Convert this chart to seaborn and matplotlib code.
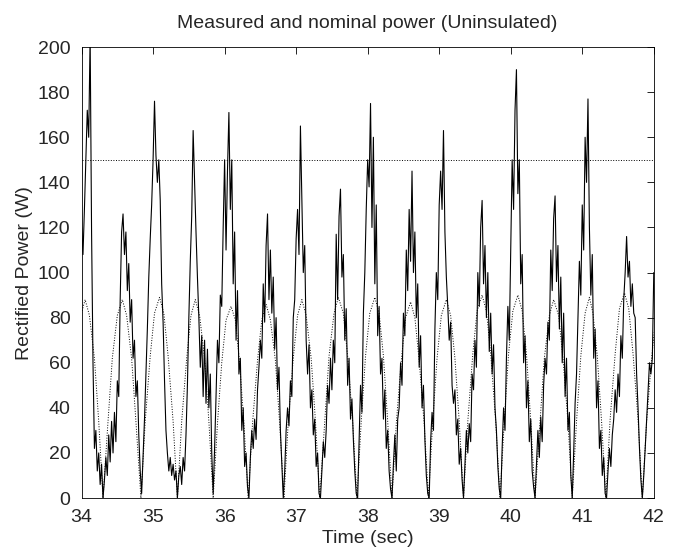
import numpy as np
import pandas as pd
import seaborn as sns
import matplotlib.pyplot as plt

# measured power, sampled every 0.02 s from 34.00 to 42.00 (one row = 0.5 s)
measured_start = 34.0
measured_step = 0.02
measured_w = [
    120, 108, 128, 150, 172, 160, 205, 118, 60, 22, 30, 12, 20, 6, 15, 0, 8, 18, 10, 28, 16, 34, 20, 38, 25,
    52, 45, 88, 118, 126, 108, 118, 92, 104, 78, 88, 62, 70, 45, 52, 28, 12, 2, 18, 35, 55, 75, 98, 115, 130,
    150, 176, 152, 140, 150, 132, 95, 78, 52, 30, 20, 12, 18, 10, 15, 8, 12, 0, 10, 14, 6, 18, 12, 28, 50,
    80, 105, 125, 163, 140, 118, 98, 80, 58, 72, 45, 70, 42, 66, 40, 55, 20, 2, 22, 45, 70, 60, 90, 85, 120,
    150, 110, 145, 171, 128, 150, 95, 118, 70, 92, 55, 62, 30, 40, 14, 20, 5, 0, 18, 30, 22, 35, 26, 48, 58,
    70, 62, 95, 78, 112, 126, 88, 110, 82, 98, 66, 80, 48, 58, 30, 15, 0, 12, 30, 40, 32, 52, 45, 80, 88,
    115, 128, 108, 165, 132, 100, 112, 70, 55, 68, 40, 48, 28, 35, 14, 20, 2, 0, 12, 25, 18, 30, 50, 42, 62,
    48, 70, 60, 117, 88, 125, 137, 98, 108, 70, 84, 50, 62, 35, 44, 26, 12, 2, 0, 26, 50, 38, 82, 100, 128,
    150, 138, 175, 120, 160, 95, 130, 72, 85, 55, 62, 35, 48, 22, 30, 12, 4, 0, 15, 28, 12, 35, 40, 60, 50,
    82, 72, 110, 92, 128, 105, 145, 100, 118, 80, 95, 58, 72, 40, 50, 26, 10, 2, 0, 25, 38, 30, 75, 100, 88,
    130, 145, 128, 163, 118, 98, 85, 70, 78, 50, 42, 48, 28, 35, 15, 22, 8, 0, 15, 30, 20, 33, 25, 55, 48,
    70, 58, 100, 85, 120, 132, 95, 112, 80, 100, 65, 82, 55, 68, 40, 30, 14, 4, 0, 22, 40, 30, 62, 85, 70,
    110, 150, 128, 172, 190, 135, 150, 95, 108, 60, 72, 40, 52, 25, 35, 12, 5, 0, 15, 30, 18, 36, 25, 50, 62,
    55, 78, 70, 110, 92, 124, 134, 96, 112, 75, 98, 60, 82, 45, 62, 30, 38, 10, 0, 20, 42, 55, 80, 105, 90,
    130, 110, 160, 140, 177, 120, 90, 108, 62, 75, 40, 52, 22, 30, 10, 18, 2, 0, 12, 22, 14, 28, 35, 48, 38,
    55, 45, 72, 62, 88, 100, 116, 98, 105, 85, 95, 82, 80, 55, 40, 22, 8, 0, 10, 22, 35, 48, 60, 55, 62,
    100,
]

# nominal (rectified sine) power, read at its own points
nominal_t = [
    33.80, 33.86, 33.93, 33.99, 34.05, 34.11, 34.18, 34.24,
    34.30, 34.37, 34.43, 34.50, 34.57, 34.63, 34.70, 34.76,
    34.83, 34.89, 34.96, 35.02, 35.09, 35.15, 35.21, 35.28,
    35.34, 35.40, 35.47, 35.53, 35.59, 35.65, 35.72, 35.78,
    35.84, 35.90, 35.96, 36.02, 36.09, 36.15, 36.21, 36.27,
    36.33, 36.39, 36.46, 36.52, 36.58, 36.64, 36.71, 36.77,
    36.83, 36.89, 36.96, 37.02, 37.08, 37.14, 37.21, 37.27,
    37.33, 37.40, 37.46, 37.53, 37.59, 37.66, 37.72, 37.79,
    37.85, 37.91, 37.97, 38.03, 38.10, 38.16, 38.22, 38.28,
    38.34, 38.40, 38.47, 38.53, 38.60, 38.66, 38.72, 38.79,
    38.85, 38.91, 38.97, 39.03, 39.10, 39.16, 39.22, 39.28,
    39.34, 39.40, 39.47, 39.53, 39.60, 39.66, 39.72, 39.79,
    39.85, 39.91, 39.97, 40.03, 40.10, 40.16, 40.22, 40.28,
    40.34, 40.41, 40.47, 40.54, 40.60, 40.67, 40.73, 40.80,
    40.86, 40.92, 40.98, 41.04, 41.10, 41.15, 41.21, 41.27,
    41.33, 41.39, 41.46, 41.52, 41.59, 41.65, 41.71, 41.78,
    41.84, 41.90, 41.97, 42.03,
]
nominal_w = [
    0, 34, 62, 81, 88, 81, 62, 34,
    0, 34, 62, 81, 88, 81, 62, 34,
    0, 34, 63, 82, 89, 82, 63, 34,
    0, 34, 62, 81, 88, 81, 62, 34,
    0, 33, 60, 79, 85, 79, 60, 33,
    0, 33, 61, 79, 86, 79, 61, 33,
    0, 34, 62, 81, 88, 81, 62, 34,
    0, 34, 63, 82, 89, 82, 63, 34,
    0, 34, 63, 82, 89, 82, 63, 34,
    0, 33, 61, 80, 87, 80, 61, 33,
    0, 34, 62, 81, 88, 81, 62, 34,
    0, 34, 64, 83, 90, 83, 64, 34,
    0, 34, 64, 83, 90, 83, 64, 34,
    0, 34, 62, 81, 88, 81, 62, 34,
    0, 34, 63, 82, 89, 82, 63, 34,
    0, 35, 64, 84, 91, 84, 64, 35,
    0, 34, 62, 81,
]

limit_w = 150

measured = pd.DataFrame({
    "t": measured_start + measured_step * np.arange(len(measured_w)),
    "w": measured_w,
})
nominal = pd.DataFrame({"t": nominal_t, "w": nominal_w})

sns.set_style("white")
plt.rcParams["font.family"] = ["Liberation Sans", "DejaVu Sans"]

fig = plt.figure(figsize=(6.74, 5.54), dpi=100)
ax = fig.add_axes([0.121, 0.101, 0.849, 0.814])

sns.lineplot(data=measured, x="t", y="w", ax=ax, color="black", lw=0.8, estimator=None, sort=False)
sns.lineplot(data=nominal, x="t", y="w", ax=ax, color="black", lw=0.7, ls=":", estimator=None, sort=False)
ax.axhline(limit_w, color="black", lw=0.7, ls=":")

ax.set_xlim(34, 42)
ax.set_ylim(0, 200)
ax.set_xticks(range(34, 43))
ax.set_yticks(range(0, 201, 20))
ax.tick_params(direction="in", length=5, width=0.6, top=True, right=True, labelsize=14, color="black")
ax.tick_params(axis="x", pad=8)
ax.tick_params(axis="y", pad=8)
for s in ax.spines.values():
    s.set_color("black")
    s.set_linewidth(0.6)

ax.set_title("Measured and nominal power (Uninsulated)", fontsize=14, pad=14)
ax.set_xlabel("Time (sec)", fontsize=14, labelpad=3)
ax.set_ylabel("Rectified Power (W)", fontsize=14)
ax.yaxis.set_label_coords(-0.085, 0.5)

fig.savefig("out.png", dpi=100)
